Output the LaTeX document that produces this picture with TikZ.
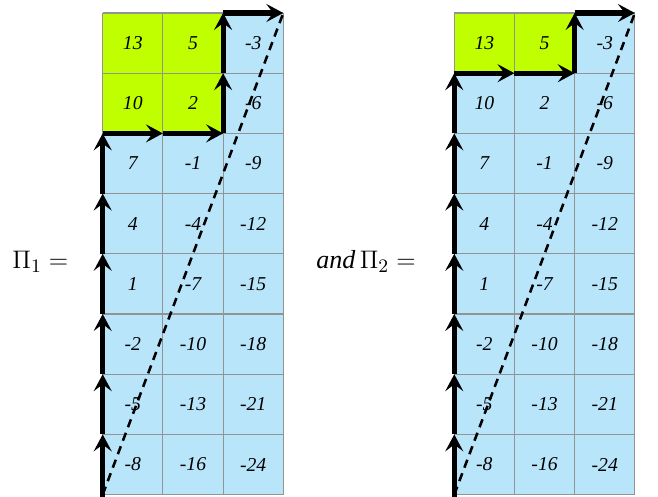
\documentclass[tikz,border=0pt]{standalone}
\usepackage{fontspec}
\setmainfont{Liberation Serif}
\usetikzlibrary{arrows.meta}
\definecolor{cellblue}{RGB}{185,229,250}
\definecolor{cellgreen}{RGB}{191,255,0}
\tikzset{
  cellnum/.style={font=\fontsize{9.3}{11}\selectfont\itshape, inner sep=0pt},
  pathseg/.style={line width=2.4pt, -{Stealth[length=8pt,width=8.5pt,inset=3.2pt]}},
  diag/.style={line width=1.2pt, dash pattern=on 4pt off 2.8pt},
  gridline/.style={draw=gray!85, line width=0.5pt},
  eqlabel/.style={font=\fontsize{12.3}{14}\selectfont, inner sep=0pt, anchor=base west}
}
\begin{document}
\begin{tikzpicture}
\useasboundingbox (-1.706,-0.033) rectangle (9.224,8.216);
% cell fills
\fill[cellblue] (0,0) rectangle (3,8);
\fill[cellblue] (5.84,0) rectangle (8.84,8);
\fill[cellgreen] (0,6) rectangle (2,8);
\fill[cellgreen] (5.84,7) rectangle (7.84,8);
% grids
\draw[gridline] (0,0) grid (3,8);
\draw[gridline, xshift=5.84cm] (0,0) grid (3,8);
% numbers
\foreach \r in {0,...,7} {
  \foreach \c in {0,1,2} {
    \pgfmathtruncatemacro\v{-8+3*\r-8*\c}
    \node[cellnum] (L-\r-\c) at (\c+0.5,\r+0.5) {\v};
    \node[cellnum] (R-\r-\c) at (\c+6.34,\r+0.5) {\v};
  }
}
% labels
\node[eqlabel] (pi1) at (-1.507,3.754) {$\Pi_1 =$};
\node[eqlabel] (pi2) at (3.543,3.754) {\textit{and}\,$\Pi_2 =$};
% coordinates
\foreach \r in {0,...,8} {
  \coordinate (Lv\r) at (0,\r);
  \coordinate (Rv\r) at (5.84,\r);
}
\coordinate (La) at (1,6);
\coordinate (Lb) at (2,6);
\coordinate (Lc) at (2,7);
\coordinate (Ld) at (2,8);
\coordinate (Le) at (3,8);
\coordinate (Ra) at (6.84,7);
\coordinate (Rb) at (7.84,7);
\coordinate (Rc) at (7.84,8);
\coordinate (Rd) at (8.84,8);
\coordinate (Lbot) at (0,-0.1);
\coordinate (Rbot) at (5.84,-0.1);
% diagonals
\draw[diag] (Lv0) -- (Le);
\draw[diag] (Rv0) -- (Rd);
% left path
\draw[line width=2.4pt] (Lbot) -- (Lv0);
\foreach \a/\b in {0/1,1/2,2/3,3/4,4/5,5/6} {
  \draw[pathseg] (Lv\a) -- (Lv\b);
}
\draw[pathseg] (Lv6) -- (La);
\draw[pathseg] (La) -- (Lb);
\draw[pathseg] (Lb) -- (Lc);
\draw[pathseg] (Lc) -- (Ld);
\draw[pathseg] (Ld) -- (Le);
% right path
\draw[line width=2.4pt] (Rbot) -- (Rv0);
\foreach \a/\b in {0/1,1/2,2/3,3/4,4/5,5/6,6/7} {
  \draw[pathseg] (Rv\a) -- (Rv\b);
}
\draw[pathseg] (Rv7) -- (Ra);
\draw[pathseg] (Ra) -- (Rb);
\draw[pathseg] (Rb) -- (Rc);
\draw[pathseg] (Rc) -- (Rd);
\end{tikzpicture}
\end{document}
